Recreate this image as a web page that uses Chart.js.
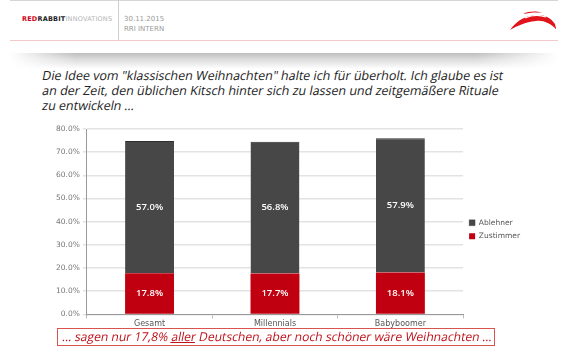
<!DOCTYPE html>
<html><head><meta charset="utf-8">
<script src="https://cdn.jsdelivr.net/npm/chart.js@4"></script>
<style>
html,body{margin:0;padding:0;background:#fff;width:580px;height:357px;overflow:hidden;position:relative;font-family:"DejaVu Sans",sans-serif;}
#topline{position:absolute;left:10px;top:0;width:548px;height:1px;background:#d6d6d6;}
#pinkline{position:absolute;left:10px;top:40px;width:548px;height:1px;background:#f3c9c9;}
#vdiv{position:absolute;left:118px;top:0;width:1px;height:40px;background:#cfcfcf;}
#brand{position:absolute;left:22px;top:15px;font-size:6.5px;letter-spacing:0.2px;color:#b5b5b5;}
#brand b.r{color:#d0021b;} #brand b.k{color:#222;}
#date{position:absolute;left:124px;top:14px;font-size:7px;color:#9a9a9a;line-height:10px;}
#shadow{position:absolute;left:10px;top:53px;width:548px;height:16px;
 background:linear-gradient(to bottom,#bdbdbd 0%,#d9d9d9 35%,#fff 100%);
 -webkit-mask-image:linear-gradient(to right,transparent 0%,#000 12%,#000 85%,transparent 100%);}
#title{position:absolute;left:41px;top:68px;width:530px;font-family:"Open Sans";font-size:12.5px;line-height:15px;color:#222;white-space:nowrap;}
.sk{display:block;transform:skewX(-11deg);transform-origin:0 100%;}
#box{position:absolute;left:57px;top:328px;width:438px;height:18px;border:1px solid #d9534f;box-sizing:border-box;}
#boxtxt{position:absolute;left:61px;top:328px;font-family:"Open Sans";font-size:12.1px;line-height:17px;color:#c0101a;white-space:nowrap;transform:skewX(-11deg);transform-origin:0 100%;}
#cwrap{position:absolute;left:30px;top:120px;width:520px;height:210px;}
#logo{position:absolute;left:505px;top:8px;}
</style></head><body>
<div id="topline"></div><div id="vdiv"></div><div id="pinkline"></div>
<div id="brand"><b class="r">RED</b><b class="k">RABBIT</b>INNOVATIONS</div>
<div id="date">30.11.2015<br>RRI INTERN</div>
<svg id="logo" width="60" height="26" viewBox="0 0 60 26">
 <path d="M5 22 C12 12 22 7 33 7 C40 7 46 10 50 16 L51 21 C45 15 38 12 31 13 C20 14 12 18 5 22 Z" fill="#e1141c"/>
 <path d="M44 13 L50 18 L51 21 Z" fill="#e1141c"/>
 <path d="M18 6 C24 3 32 3 37 5 C31 4 24 5 18 6 Z" fill="#e1141c"/>
 <path d="M20 10 C27 7 35 7 41 9" stroke="#fff" stroke-width="1.2" fill="none"/>
</svg>
<div id="shadow"></div>
<div id="title"><span class="sk">Die Idee vom "klassischen Weihnachten" halte ich für überholt. Ich glaube es ist</span><span class="sk">an der Zeit, den üblichen Kitsch hinter sich zu lassen und zeitgemäßere Rituale</span><span class="sk">zu entwickeln …</span></div>
<div id="cwrap"><canvas id="c" width="520" height="210"></canvas></div>
<div id="box"></div>
<div id="boxtxt">… sagen nur 17,8% <u>aller</u> Deutschen, aber noch schöner wäre Weihnachten …</div>
<script>
const categories = ["Gesamt", "Millennials", "Babyboomer"];
const zustimmer = [17.8, 17.7, 18.1];
const ablehner = [57.0, 56.8, 57.9];
const seriesNames = ["Zustimmer", "Ablehner"];
const yTicks = [0, 10, 20, 30, 40, 50, 60, 70, 80];

const labelPlugin = {
  id: 'segLabels',
  afterDatasetsDraw(chart) {
    const ctx = chart.ctx;
    ctx.save();
    ctx.fillStyle = '#fff';
    ctx.font = '600 9.5px "Open Sans"';
    ctx.textAlign = 'center';
    ctx.textBaseline = 'middle';
    chart.data.datasets.forEach((ds, i) => {
      chart.getDatasetMeta(i).data.forEach((bar, j) => {
        const y = (bar.y + bar.base) / 2;
        ctx.fillText(ds.data[j].toFixed(1) + '%', bar.x, y);
      });
    });
    ctx.restore();
  }
};

new Chart(document.getElementById('c'), {
  type: 'bar',
  data: {
    labels: categories,
    datasets: [
      { label: seriesNames[0], data: zustimmer, backgroundColor: '#c00010', borderWidth: 0 },
      { label: seriesNames[1], data: ablehner, backgroundColor: '#474747', borderColor:'#2e2e2e', borderWidth: {top:1,left:0,right:0,bottom:0} }
    ]
  },
  options: {
    responsive: false,
    animation: false,
    devicePixelRatio: 1,
    layout: { padding: { left: 23, right: 20, top: 9, bottom: 0 } },
    datasets: { bar: { categoryPercentage: 1, barPercentage: 0.39 } },
    scales: {
      x: {
        stacked: true,
        grid: { display: true, drawOnChartArea: false, offset: true, tickLength: 4, color: '#bbb' },
        border: { color: '#999' },
        ticks: { color: '#555', font: { size: 8, family: 'DejaVu Sans' }, padding: 1 }
      },
      y: {
        stacked: true, min: 0, max: 80,
        afterBuildTicks(s) { s.ticks = yTicks.map(v => ({ value: v })); },
        grid: { color: '#e3e3e3', lineWidth: 1.5, tickLength: 4 },
        border: { color: '#999' },
        ticks: { color: '#777', font: { size: 7.5, family: 'DejaVu Sans' }, padding: 3,
          callback: v => v.toFixed(1) + '%' }
      }
    },
    plugins: {
      tooltip: { enabled: false },
      legend: {
        position: 'right', reverse: true,
        labels: { boxWidth: 6, boxHeight: 6, padding: 6, color: '#555', font: { size: 7.5, family: 'DejaVu Sans' } }
      }
    }
  },
  plugins: [labelPlugin]
});
</script>
</body></html>
